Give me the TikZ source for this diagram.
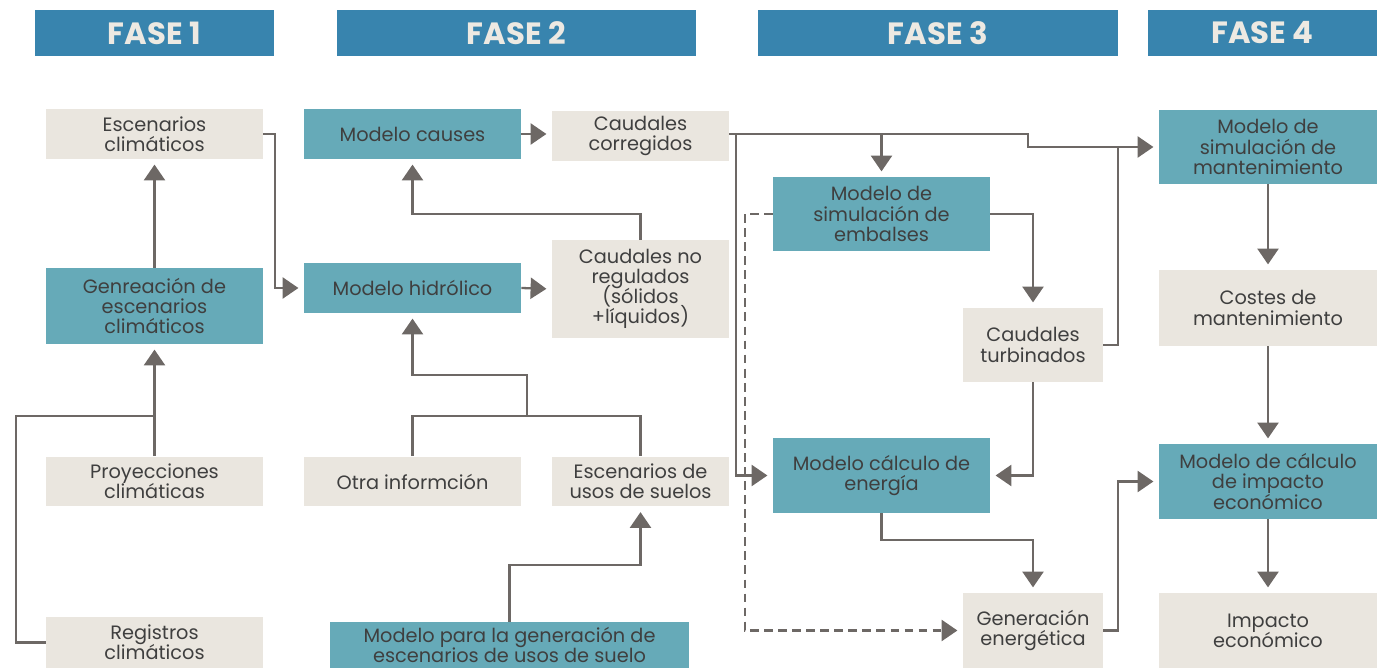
\documentclass[tikz,border=0pt]{standalone}
\usepackage{fontspec}
\setmainfont{Poppins}
\usetikzlibrary{arrows.meta}
\definecolor{fasefill}{HTML}{3884AE}
\definecolor{fasetext}{HTML}{EDE9E2}
\definecolor{boxteal}{HTML}{66AAB8}
\definecolor{boxcream}{HTML}{EAE6DF}
\definecolor{boxtext}{HTML}{3F3F3F}
\definecolor{linegray}{HTML}{6D6865}
\newcommand\boxfont{\fontsize{11}{11.5}\selectfont\lineskiplimit-20pt\relax}
\begin{document}
\begin{tikzpicture}[x=0.02cm,y=-0.02cm,>={Triangle[length=9pt,width=12pt]},
  fase/.style={fill=fasefill,text=fasetext,font=\fontsize{17.5}{19}\selectfont\bfseries,minimum height=0.92cm,inner sep=0pt},
  box/.style={text=boxtext,font=\boxfont,align=center,inner sep=0pt,minimum height=1cm,minimum width=4.34cm},
  cbox/.style={box,fill=boxcream},
  tbox/.style={box,fill=boxteal},
  link/.style={draw=linegray,line width=1.3pt},
  flow/.style={link,->,shorten >=3pt},
  dflow/.style={flow,dash pattern=on 5pt off 3pt}]
  \useasboundingbox (0,0) rectangle (1377,668);
  \node[fase,minimum width=4.78cm] (f1) at (154.5,33) {FASE 1};
  \node[fase,minimum width=7.18cm] (f2) at (516.5,33) {FASE 2};
  \node[fase,minimum width=7.2cm] (f3) at (938,33) {FASE 3};
  \node[fase,minimum width=4.58cm] (f4) at (1262.5,33) {FASE 4};
  \node[cbox] (escclim) at (154.5,134) {Escenarios\\climáticos};
  \node[tbox,minimum height=1.52cm] (genclim) at (154.5,306) {Genreación de\\escenarios\\climáticos};
  \node[cbox] (proy) at (154.5,481.5) {Proyecciones\\climáticas};
  \node[cbox,minimum height=1.02cm] (reg) at (154.5,642.5) {Registros\\climáticos};
  \node[tbox] (causes) at (412.5,134) {Modelo causes};
  \node[cbox,minimum width=3.54cm] (corr) at (640.5,136) {Caudales\\corregidos};
  \node[tbox] (hidr) at (412.5,288) {Modelo hidrólico};
  \node[cbox,minimum width=3.54cm,minimum height=1.96cm] (noreg) at (640.5,289) {Caudales no\\regulados\\(sólidos\\+líquidos)};
  \node[cbox] (otra) at (412.5,481.5) {Otra informción};
  \node[cbox,minimum width=3.54cm] (usos) at (640.5,481.5) {Escenarios de\\usos de suelos};
  \node[tbox,minimum width=7.18cm,minimum height=0.92cm] (gensuelo) at (509.5,645) {Modelo para la generación de\\escenarios de usos de suelo};
  \node[tbox,minimum height=1.48cm] (embal) at (881.5,214) {Modelo de\\simulación de\\embalses};
  \node[cbox,minimum width=2.8cm,minimum height=1.48cm] (turb) at (1033,345) {Caudales\\turbinados};
  \node[tbox,minimum height=1.5cm] (energ) at (881.5,475.5) {Modelo cálculo de\\energía};
  \node[cbox,minimum width=2.8cm,minimum height=1.5cm] (generg) at (1033,630.5) {Generación\\energética};
  \node[tbox,minimum width=4.36cm,minimum height=1.48cm] (mant) at (1268,147) {Modelo de\\simulación de\\mantenimiento};
  \node[cbox,minimum width=4.36cm,minimum height=1.52cm] (costes) at (1268,308) {Costes de\\mantenimiento};
  \node[tbox,minimum width=4.36cm,minimum height=1.5cm] (impcalc) at (1268,481.5) {Modelo de cálculo\\de impacto\\económico};
  \node[cbox,minimum width=4.36cm,minimum height=1.5cm] (impec) at (1268,630.5) {Impacto\\económico};
  \coordinate (jclim) at (154.5,416);
  \coordinate (jhidr) at (527,416);
  \coordinate (jmant) at (1118,147);
  \draw[flow] (escclim.east) -- ++(12,0) |- (hidr.west);
  \draw[flow] (genclim.north) -- (escclim.south);
  \draw[flow] (proy.north) -- (genclim.south);
  \draw[link] (reg.west) -- ++(-30,0) |- (jclim);
  \draw[flow] (causes.east) -- (causes.east -| corr.west);
  \draw[flow] (hidr.east) -- (noreg.west);
  \draw[flow] (noreg.north) -- ++(0,-26) -| (causes.south);
  \draw[link] (otra.north) |- (jhidr) -| (usos.north);
  \draw[flow] (jhidr) -- ++(0,-41) -| (hidr.south);
  \draw[flow] (gensuelo.north) -- ++(0,-57) -| (usos.south);
  \draw[flow] (corr.east) ++(0,-2) -- ++(299,0) |- (mant.west);
  \draw[flow] (embal.north |- corr.east) ++(0,-2) -- (embal.north);
  \draw[flow] (corr.east) ++(7,-2) |- (energ.west);
  \draw[link] (turb.east) -| (jmant);
  \draw[flow] (embal.east) -| (turb.north);
  \draw[dflow] (embal.west) -- ++(-28,0) |- (generg.west);
  \draw[flow] (turb.south) |- (energ.east);
  \draw[flow] (energ.south) -- ++(0,27) -| (generg.north);
  \draw[flow] (generg.east) -- ++(15,0) |- (impcalc.west);
  \draw[flow] (mant.south) -- (costes.north);
  \draw[flow] (costes.south) -- (impcalc.north);
  \draw[flow] (impcalc.south) -- (impec.north);
\end{tikzpicture}
\end{document}
